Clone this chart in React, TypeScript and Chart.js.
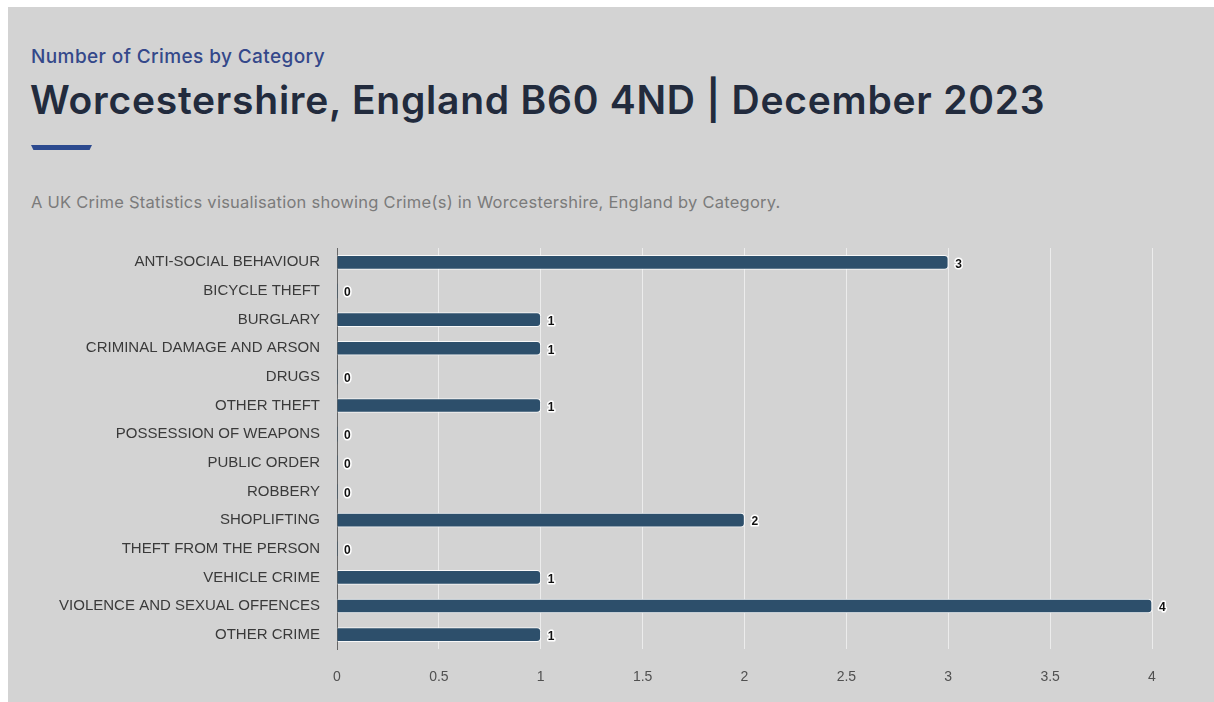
import React, { useEffect, useRef } from "react";
import { Chart, registerables } from "chart.js";

Chart.register(...registerables);

const categories = [
  "ANTI-SOCIAL BEHAVIOUR",
  "BICYCLE THEFT",
  "BURGLARY",
  "CRIMINAL DAMAGE AND ARSON",
  "DRUGS",
  "OTHER THEFT",
  "POSSESSION OF WEAPONS",
  "PUBLIC ORDER",
  "ROBBERY",
  "SHOPLIFTING",
  "THEFT FROM THE PERSON",
  "VEHICLE CRIME",
  "VIOLENCE AND SEXUAL OFFENCES",
  "OTHER CRIME",
];
const crimeCounts = [3, 0, 1, 1, 0, 1, 0, 0, 0, 2, 0, 1, 4, 1];
const xMax = 4;
const xStep = 0.5;

const valueLabelPlugin = {
  id: "valueLabels",
  afterDatasetsDraw(chart: any) {
    const ctx = chart.ctx;
    const meta = chart.getDatasetMeta(0);
    const data = chart.data.datasets[0].data;
    ctx.save();
    ctx.font = "bold 12px 'Liberation Sans', Arial, sans-serif";
    ctx.textAlign = "left";
    ctx.textBaseline = "middle";
    ctx.lineJoin = "round";
    meta.data.forEach((bar: any, i: number) => {
      const txt = String(data[i]);
      const x = bar.x + 7;
      const y = bar.y + 2;
      ctx.lineWidth = 3;
      ctx.strokeStyle = "#ffffff";
      ctx.strokeText(txt, x, y);
      ctx.fillStyle = "#111111";
      ctx.fillText(txt, x, y);
    });
    ctx.restore();
  },
};

function CrimeChart() {
  const ref = useRef<HTMLCanvasElement | null>(null);
  useEffect(() => {
    if (!ref.current) return;
    const chart = new Chart(ref.current, {
      type: "bar",
      data: {
        labels: categories,
        datasets: [
          {
            data: crimeCounts,
            backgroundColor: "#2d4f6b",
            borderColor: "rgba(255,255,255,0.85)",
            borderWidth: (c: any) => (c.raw === 0 ? 0 : 1),
            borderSkipped: "start",
            borderRadius: 4,
            barThickness: 14,
          },
        ],
      },
      options: {
        indexAxis: "y",
        animation: false,
        responsive: false,
        maintainAspectRatio: false,
        layout: { padding: { top: 0, right: 38, left: 0, bottom: 0 } },
        plugins: {
          legend: { display: false },
          tooltip: { enabled: false },
          title: { display: false },
        },
        scales: {
          x: {
            min: 0,
            max: xMax,
            ticks: {
              stepSize: xStep,
              color: "#505050",
              padding: 20,
              font: { family: "'Liberation Sans', Arial, sans-serif", size: 14 },
              callback: (v: any) => String(Number(v)),
            },
            grid: { color: "#ececec", lineWidth: 1, drawTicks: false },
            border: { display: false },
            afterFit: (s: any) => {
              s.height = 51;
            },
          },
          y: {
            ticks: {
              color: "#3a3a3a",
              padding: 17,
              font: { family: "'Liberation Sans', Arial, sans-serif", size: 15 },
            },
            grid: { display: false, drawTicks: false },
            border: { display: true, color: "#666666", width: 1 },
            afterFit: (s: any) => {
              s.width = 307;
            },
          },
        },
      },
      plugins: [valueLabelPlugin],
    } as any);
    return () => chart.destroy();
  }, []);
  return (
    <canvas
      ref={ref}
      width={1160}
      height={478}
      style={{ position: "absolute", left: 22, top: 215, width: 1160, height: 478 }}
    />
  );
}

export default function App() {
  return (
    <div
      style={{
        position: "absolute",
        left: 8,
        top: 7,
        width: 1206,
        height: 695,
        background: "#d3d3d3",
        overflow: "hidden",
      }}
    >
      <div
        style={{
          position: "absolute",
          left: 23,
          top: 38,
          fontFamily: "Inter, 'Noto Sans', sans-serif",
          fontSize: 19,
          letterSpacing: 0.4,
          fontWeight: 500,
          color: "#34488a",
          whiteSpace: "nowrap",
        }}
      >
        Number of Crimes by Category
      </div>
      <div
        style={{
          position: "absolute",
          left: 22,
          top: 69,
          fontFamily: "Inter, 'Noto Sans', sans-serif",
          fontSize: 39,
          letterSpacing: 0.75,
          fontWeight: 600,
          color: "#222b3d",
          whiteSpace: "nowrap",
        }}
      >
        Worcestershire, England B60 4ND | December 2023
      </div>
      <div
        style={{
          position: "absolute",
          left: 23,
          top: 138,
          width: 61,
          height: 5,
          background: "#2c4a8f",
          clipPath: "polygon(0 0, 100% 0, 96% 100%, 4% 100%)",
        }}
      />
      <div
        style={{
          position: "absolute",
          left: 23,
          top: 185,
          fontFamily: "Inter, 'Noto Sans', sans-serif",
          fontSize: 16.5,
          letterSpacing: 0.25,
          fontWeight: 400,
          color: "#7b7b7b",
          whiteSpace: "nowrap",
        }}
      >
        A UK Crime Statistics visualisation showing Crime(s) in Worcestershire, England by Category.
      </div>
      <CrimeChart />
    </div>
  );
}
